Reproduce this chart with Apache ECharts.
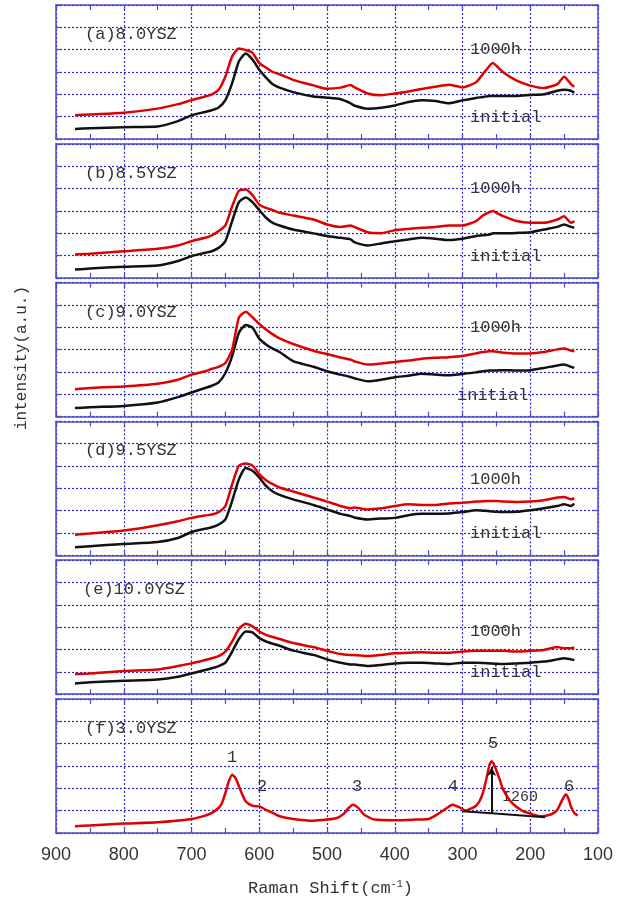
<!DOCTYPE html>
<html>
<head>
<meta charset="utf-8">
<script src="https://cdn.jsdelivr.net/npm/echarts@6/dist/echarts.min.js"></script>
<style>
	html,body{margin:0;padding:0;background:#fff;}
	#ramanchart{width:623px;height:902px;}
</style>
</head>
<body>
<div id="ramanchart"></div>
<script>
// Raman shift sample points (cm-1) for panels (a)-(e)
var shift = [872, 850, 800, 750, 720, 700, 680, 670, 660, 650, 640, 630, 620, 610, 600, 590, 580, 570, 550, 520, 500, 480, 465, 460, 440, 420, 400, 380, 360, 340, 320, 300, 280, 270, 260, 255, 250, 240, 220, 200, 180, 160, 150, 140, 135];

// intensity (a.u., grid units 0-6 per panel)
var a_1000h   = [1.06, 1.1, 1.18, 1.36, 1.56, 1.74, 1.9, 2.0, 2.2, 2.8, 3.7, 4.05, 3.98, 3.86, 3.4, 3.2, 3.0, 2.9, 2.65, 2.4, 2.25, 2.3, 2.42, 2.32, 2.04, 1.96, 2.04, 2.13, 2.24, 2.34, 2.43, 2.31, 2.54, 2.9, 3.28, 3.4, 3.28, 2.99, 2.61, 2.39, 2.28, 2.46, 2.79, 2.46, 2.34];
var a_initial = [0.45, 0.48, 0.53, 0.56, 0.8, 1.06, 1.21, 1.29, 1.41, 1.74, 2.5, 3.48, 3.83, 3.56, 3.1, 2.75, 2.45, 2.3, 2.1, 1.9, 1.85, 1.78, 1.6, 1.5, 1.36, 1.4, 1.5, 1.66, 1.73, 1.7, 1.6, 1.73, 1.84, 1.88, 1.93, 1.93, 1.93, 1.93, 1.93, 1.97, 2.0, 2.16, 2.2, 2.16, 2.07];
var b_1000h   = [1.04, 1.08, 1.19, 1.3, 1.45, 1.64, 1.79, 1.9, 2.09, 2.35, 3.2, 3.9, 3.95, 3.7, 3.28, 3.13, 3.03, 2.91, 2.79, 2.61, 2.39, 2.28, 2.34, 2.28, 2.04, 2.0, 2.13, 2.19, 2.24, 2.28, 2.34, 2.34, 2.54, 2.79, 2.94, 2.99, 2.91, 2.76, 2.54, 2.46, 2.46, 2.61, 2.76, 2.46, 2.54];
var b_initial = [0.37, 0.42, 0.49, 0.55, 0.75, 0.97, 1.12, 1.19, 1.34, 1.64, 2.54, 3.39, 3.6, 3.39, 3.03, 2.69, 2.46, 2.34, 2.16, 1.99, 1.87, 1.79, 1.72, 1.6, 1.45, 1.54, 1.64, 1.72, 1.79, 1.75, 1.69, 1.75, 1.87, 1.9, 1.94, 1.99, 1.99, 1.99, 2.01, 2.04, 2.16, 2.28, 2.39, 2.28, 2.24];
var c_1000h   = [1.23, 1.28, 1.35, 1.47, 1.65, 1.88, 2.03, 2.14, 2.23, 2.4, 3.0, 4.44, 4.7, 4.45, 4.15, 3.9, 3.68, 3.5, 3.25, 2.95, 2.8, 2.65, 2.55, 2.48, 2.33, 2.38, 2.44, 2.51, 2.59, 2.63, 2.66, 2.71, 2.83, 2.89, 2.93, 2.93, 2.9, 2.86, 2.83, 2.83, 2.89, 3.01, 3.05, 2.96, 2.93];
var c_initial = [0.38, 0.42, 0.48, 0.63, 0.87, 1.08, 1.28, 1.38, 1.53, 1.95, 2.71, 3.76, 4.1, 3.98, 3.49, 3.23, 3.04, 2.89, 2.48, 2.23, 2.03, 1.88, 1.77, 1.72, 1.58, 1.65, 1.76, 1.83, 1.92, 1.88, 1.85, 1.91, 1.98, 2.03, 2.06, 2.06, 2.06, 2.08, 2.06, 2.08, 2.18, 2.29, 2.33, 2.23, 2.18];
var d_1000h   = [0.93, 0.98, 1.11, 1.35, 1.53, 1.68, 1.79, 1.83, 1.94, 2.21, 3.19, 4.02, 4.12, 4.02, 3.64, 3.37, 3.19, 3.04, 2.86, 2.59, 2.41, 2.21, 2.11, 2.14, 2.06, 2.11, 2.21, 2.29, 2.26, 2.26, 2.32, 2.36, 2.41, 2.43, 2.44, 2.44, 2.44, 2.41, 2.39, 2.41, 2.47, 2.59, 2.62, 2.51, 2.56];
var d_initial = [0.36, 0.41, 0.51, 0.6, 0.78, 1.05, 1.19, 1.26, 1.38, 1.61, 2.44, 3.41, 3.91, 3.79, 3.49, 3.11, 2.86, 2.71, 2.51, 2.26, 2.06, 1.86, 1.76, 1.7, 1.61, 1.65, 1.68, 1.8, 1.86, 1.86, 1.88, 1.94, 2.02, 2.0, 1.98, 1.96, 1.95, 1.94, 1.95, 2.02, 2.11, 2.21, 2.29, 2.21, 2.32];
var e_1000h   = [0.9, 0.93, 1.04, 1.11, 1.26, 1.38, 1.53, 1.61, 1.71, 1.91, 2.36, 2.92, 3.16, 3.04, 2.81, 2.66, 2.56, 2.47, 2.29, 2.11, 1.94, 1.8, 1.76, 1.76, 1.71, 1.76, 1.83, 1.86, 1.88, 1.86, 1.86, 1.91, 1.94, 1.94, 1.94, 1.94, 1.94, 1.94, 1.91, 1.94, 1.98, 2.11, 2.06, 2.06, 2.09];
var e_initial = [0.48, 0.53, 0.6, 0.66, 0.78, 0.93, 1.08, 1.16, 1.26, 1.41, 1.91, 2.47, 2.81, 2.77, 2.51, 2.36, 2.26, 2.17, 1.95, 1.76, 1.56, 1.41, 1.33, 1.33, 1.26, 1.31, 1.38, 1.41, 1.41, 1.38, 1.35, 1.41, 1.41, 1.4, 1.38, 1.37, 1.36, 1.35, 1.38, 1.41, 1.46, 1.56, 1.61, 1.56, 1.53];

// panel (f) 3.0YSZ
var shiftF = [872, 850, 800, 750, 700, 680, 670, 660, 655, 650, 645, 640, 635, 630, 625, 620, 610, 600, 590, 580, 570, 550, 520, 500, 485, 475, 468, 462, 455, 445, 430, 400, 370, 350, 340, 330, 320, 315, 305, 295, 285, 280, 275, 270, 265, 260, 257, 252, 245, 240, 230, 220, 210, 200, 185, 175, 165, 160, 155, 150, 147, 143, 140, 135, 130];
var f_3ysz = [0.3, 0.34, 0.42, 0.48, 0.63, 0.78, 0.9, 1.12, 1.34, 1.79, 2.31, 2.61, 2.46, 2.09, 1.72, 1.42, 1.22, 1.19, 1.04, 0.9, 0.75, 0.63, 0.55, 0.6, 0.67, 0.87, 1.12, 1.27, 1.16, 0.82, 0.6, 0.57, 0.6, 0.63, 0.78, 0.97, 1.19, 1.27, 1.16, 1.01, 1.12, 1.22, 1.42, 1.79, 2.39, 3.06, 3.21, 2.96, 2.39, 1.94, 1.46, 1.16, 0.97, 0.87, 0.75, 0.78, 0.9, 1.04, 1.34, 1.64, 1.72, 1.49, 1.19, 0.9, 0.78];
// I260 baseline and height
var baseX = [300, 257, 178];
var baseY = [0.97, 0.88, 0.7];
var i260X = 257;
var i260Y = [0.88, 2.95];

var panelNames = ['(a)8.0YSZ', '(b)8.5YSZ', '(c)9.0YSZ', '(d)9.5YSZ', '(e)10.0YSZ', '(f)3.0YSZ'];
var xTicks = [100, 900, 100]; // min, max, interval
var peakNames = ['1', '2', '3', '4', '5', '6'];

var Ramanchart = {
	blue: '#4b4bcf',
	gridblue: '#2a2ac8',
	mono: '"Liberation Mono", "DejaVu Sans Mono", monospace',

	pairs: function(xs, ys){
		var out = [];
		for (var i = 0; i < xs.length; i++) {
			out.push([xs[i], ys[i]]);
		}
		return out;
	},

	buildOption: function(){
		var me = Ramanchart;
		var curves = [
			[a_initial, a_1000h], [b_initial, b_1000h], [c_initial, c_1000h],
			[d_initial, d_1000h], [e_initial, e_1000h]
		];
		var grids = [], xAxes = [], yAxes = [], series = [], graphics = [];
		var edge = {show: true, onZero: false, lineStyle: {color: me.blue, width: 1.5}};
		var tick = {show: true, inside: true, length: 5, lineStyle: {color: me.blue, width: 1.2}};
		var dash = {show: true, lineStyle: {color: me.gridblue, width: 1.2, type: [2, 2]}};

		for (var i = 0; i < 6; i++) {
			var top = 5 + i * 138.8;
			grids.push({left: 56, right: 25, top: top, height: 134});
			// bottom + top x axes
			xAxes.push({
				gridIndex: i, type: 'value', min: xTicks[0], max: xTicks[1], interval: xTicks[2],
				inverse: true, position: 'bottom',
				axisLine: edge, axisTick: tick,
				minorTick: {show: true, splitNumber: 2, length: 5, lineStyle: {color: me.blue, width: 1.2}},
				splitLine: dash,
				axisLabel: {show: i == 5, color: '#333', fontSize: 18, margin: 13,
					fontFamily: '"Liberation Sans", Arial, sans-serif'}
			});
			xAxes.push({
				gridIndex: i, type: 'value', min: xTicks[0], max: xTicks[1], interval: xTicks[2],
				inverse: true, position: 'top',
				axisLine: edge, axisTick: tick,
				minorTick: {show: true, splitNumber: 2, length: 5, lineStyle: {color: me.blue, width: 1.2}},
				splitLine: {show: false}, axisLabel: {show: false}
			});
			yAxes.push({
				gridIndex: i, type: 'value', min: 0, max: 6, interval: 1, position: 'left',
				axisLine: edge, axisTick: tick, splitLine: dash, axisLabel: {show: false}
			});
			yAxes.push({
				gridIndex: i, type: 'value', min: 0, max: 6, interval: 1, position: 'right',
				axisLine: edge, axisTick: tick, splitLine: {show: false}, axisLabel: {show: false}
			});

			graphics.push({type: 'text', left: (i == 4 ? 83 : 85), top: top + 21,
				style: {text: panelNames[i], font: '17px ' + me.mono, fill: '#333'}});

			if (i < 5) {
				series.push({
					name: 'initial', type: 'line', xAxisIndex: 2 * i, yAxisIndex: 2 * i,
					data: me.pairs(shift, curves[i][0]), showSymbol: false, smooth: 0.2,
					lineStyle: {color: '#111', width: 2.5}, z: 3
				});
				series.push({
					name: '1000h', type: 'line', xAxisIndex: 2 * i, yAxisIndex: 2 * i,
					data: me.pairs(shift, curves[i][1]), showSymbol: false, smooth: 0.2,
					lineStyle: {color: '#e00000', width: 2.5}, z: 4
				});
				var hTop = [36, 36, 36, 50, 63][i];
				graphics.push({type: 'text', left: 470, top: top + hTop,
					style: {text: '1000h', font: '17px ' + me.mono, fill: '#333'}});
				graphics.push({type: 'text', left: (i == 2 ? 457 : 470), top: top + 104,
					style: {text: 'initial', font: '17px ' + me.mono, fill: '#333'}});
			}
		}

		// panel (f)
		series.push({
			name: '3.0YSZ', type: 'line', xAxisIndex: 10, yAxisIndex: 10,
			data: me.pairs(shiftF, f_3ysz), showSymbol: false, smooth: 0.2,
			lineStyle: {color: '#e00000', width: 2.5}, z: 4
		});
		series.push({
			name: 'baseline', type: 'line', xAxisIndex: 10, yAxisIndex: 10,
			data: me.pairs(baseX, baseY), showSymbol: false,
			lineStyle: {color: '#111', width: 2}, z: 5,
			markLine: {
				silent: true, symbol: ['none', 'arrow'], symbolSize: [7, 9],
				lineStyle: {color: '#111', width: 2, type: 'solid'}, label: {show: false},
				data: [[{coord: [i260X, i260Y[0]]}, {coord: [i260X, i260Y[1]]}]]
			}
		});

		var peakPos = [[232, 757], [262, 786], [357, 786], [453, 786], [493, 743], [569, 786]];
		for (var k = 0; k < peakNames.length; k++) {
			graphics.push({type: 'text', x: peakPos[k][0], y: peakPos[k][1],
				style: {text: peakNames[k], font: '17px ' + me.mono, fill: '#333',
					textAlign: 'center', textVerticalAlign: 'middle'}});
		}
		graphics.push({type: 'text', left: 502, top: 790,
			style: {text: 'I260', font: '15px ' + me.mono, fill: '#333'}});

		// axis titles
		graphics.push({type: 'text', x: 22, y: 358, rotation: Math.PI / 2,
			style: {text: 'intensity(a.u.)', font: '16px ' + me.mono, fill: '#333',
				textAlign: 'center', textVerticalAlign: 'middle'}});
		graphics.push({type: 'text', left: 248, top: 879,
			style: {
				rich: {
					n: {fontSize: 17, fontFamily: me.mono, fill: '#333'},
					s: {fontSize: 10, fontFamily: me.mono, fill: '#333', verticalAlign: 'top', padding: [0, 0, 9, 0]}
				},
				text: '{n|Raman Shift(cm}{s|-1}{n|)}'
			}});

		var option = {
			backgroundColor: '#fff',
			animation: false,
			grid: grids,
			xAxis: xAxes,
			yAxis: yAxes,
			series: series,
			graphic: graphics
		};
		return option;
	},

	init: function(){
		var myChart = echarts.init(document.getElementById('ramanchart'));
		myChart.setOption(Ramanchart.buildOption(), true);
	}
};

Ramanchart.init();
</script>
</body>
</html>
